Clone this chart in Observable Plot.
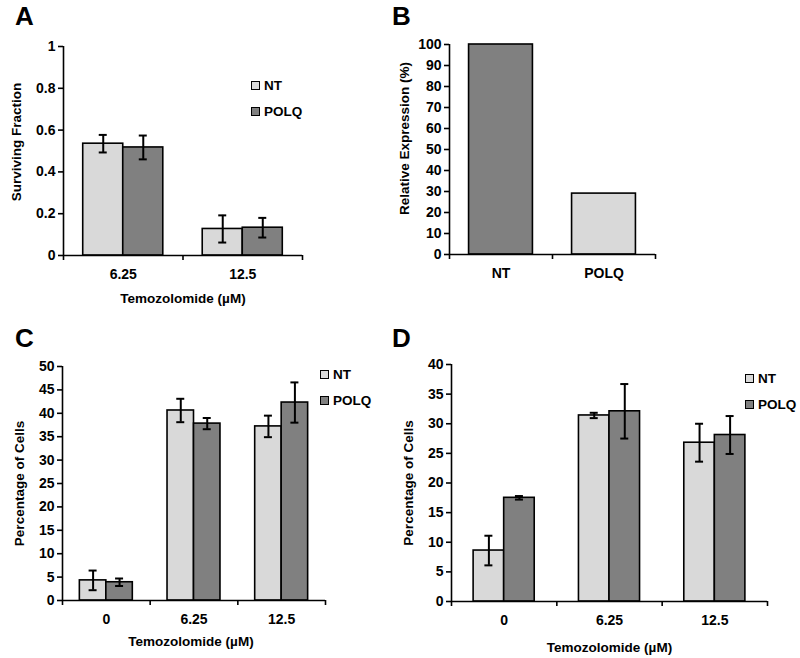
<!DOCTYPE html>
<html>
<head>
<meta charset="utf-8">
<script src="https://cdn.jsdelivr.net/npm/d3@7"></script>
<script src="https://cdn.jsdelivr.net/npm/@observablehq/plot@0.6"></script>
<style>
  body { margin: 0; background: #fff; }
  #root { position: relative; width: 800px; height: 658px; background: #fff; font-family: "Liberation Sans", Arial, sans-serif; font-weight: bold; color: #000; }
  .panel { position: absolute; }
  .letter { position: absolute; font-size: 26px; line-height: 26px; font-weight: bold; }
  .leg { position: absolute; display: flex; align-items: center; height: 16px; font-size: 13.5px; gap: 4px; }
  .leg .box { width: 9px; height: 9px; border: 1.5px solid #000; box-sizing: border-box; }
</style>
</head>
<body>
<div id="root"></div>
<script>
// ---------- data ----------
const seriesNames = ["NT", "POLQ"];
const xTitle = "Temozolomide (µM)";

// Panel A: surviving fraction
const dosesA = ["6.25", "12.5"];
const survNT = [0.535, 0.127];
const survNTerr = [0.042, 0.065];
const survPOLQ = [0.517, 0.133];
const survPOLQerr = [0.057, 0.047];
const yTicksA = [0, 0.2, 0.4, 0.6, 0.8, 1];

// Panel B: relative expression
const exprGroups = ["NT", "POLQ"];
const exprValues = [100, 29];
const yTicksB = [0, 10, 20, 30, 40, 50, 60, 70, 80, 90, 100];

// Panel C: percentage of cells
const dosesC = ["0", "6.25", "12.5"];
const cNT = [4.3, 40.6, 37.2];
const cNTerr = [2.1, 2.5, 2.3];
const cPOLQ = [3.9, 37.8, 42.3];
const cPOLQerr = [0.8, 1.2, 4.3];
const yTicksC = [0, 5, 10, 15, 20, 25, 30, 35, 40, 45, 50];

// Panel D: percentage of cells
const dosesD = ["0", "6.25", "12.5"];
const dNT = [8.6, 31.4, 26.8];
const dNTerr = [2.5, 0.45, 3.2];
const dPOLQ = [17.5, 32.1, 28.1];
const dPOLQerr = [0.3, 4.6, 3.2];
const yTicksD = [0, 5, 10, 15, 20, 25, 30, 35, 40];

// ---------- styles ----------
const LIGHT = "#d9d9d9";
const DARK = "#808080";
const FONT = '"Liberation Sans", Arial, sans-serif';
const FS = 13.5;
const FS_TICK = 14;
const SW = 1.6;

const root = document.getElementById("root");

function place(el, left, top) {
  const wrap = document.createElement("div");
  wrap.className = "panel";
  wrap.style.left = left + "px";
  wrap.style.top = top + "px";
  wrap.appendChild(el);
  root.appendChild(wrap);
}

function baseStyle() {
  return {fontFamily: FONT, fontSize: FS + "px", fontWeight: "bold", color: "#000", background: "transparent", overflow: "visible"};
}

const txt = {fontSize: FS, fontWeight: "bold", fontFamily: FONT, fill: "#000"};
const tickTxt = {...txt, fontSize: FS_TICK};

function yTitle(label, dx, dy) {
  return Plot.text([label], {...txt, text: d => d, frameAnchor: "left", textAnchor: "middle", lineAnchor: "middle", rotate: -90, dx, dy});
}

function groupedPanel(o) {
  const n = o.cats.length;
  const plotW = o.width - o.ml - o.mr;
  const stepPx = plotW / n;
  const capHalf = 4 / stepPx;
  const g = o.groupFrac;
  const rows = [];
  o.cats.forEach((c, i) => {
    [[o.nt, o.ntErr], [o.polq, o.polqErr]].forEach(([vals, errs], s) => {
      const x1 = i + 0.5 - g / 2 + s * g / 2;
      rows.push({cat: c, series: seriesNames[s], value: vals[i], err: errs[i], x1, x2: x1 + g / 2, xc: x1 + g / 4});
    });
  });
  return Plot.plot({
    width: o.width, height: o.height,
    marginLeft: o.ml, marginRight: o.mr, marginTop: o.mt, marginBottom: o.mb,
    x: {domain: [0, n]},
    y: {domain: o.yDomain},
    color: {domain: seriesNames, range: [LIGHT, DARK]},
    style: baseStyle(),
    marks: [
      Plot.rectY(rows, {x1: "x1", x2: "x2", y1: 0, y2: "value", fill: "series", stroke: "#000", strokeWidth: SW}),
      Plot.ruleX(rows, {x: "xc", y1: d => d.value - d.err, y2: d => d.value + d.err, strokeWidth: 2}),
      Plot.ruleY(rows, {y: d => d.value + d.err, x1: d => d.xc - capHalf, x2: d => d.xc + capHalf, strokeWidth: 2}),
      Plot.ruleY(rows, {y: d => d.value - d.err, x1: d => d.xc - capHalf, x2: d => d.xc + capHalf, strokeWidth: 2}),
      Plot.axisY({ticks: o.yTicks, tickSize: 5, tickPadding: 3, tickFormat: d => String(d), label: null, strokeWidth: SW, ...tickTxt}),
      Plot.axisX({ticks: d3.range(n + 1), tickSize: 5, tickFormat: () => "", label: null, strokeWidth: SW}),
      Plot.axisX({ticks: d3.range(n).map(i => i + 0.5), tickSize: 0, tickPadding: o.xPad, tickFormat: d => o.cats[Math.floor(d)], label: null, ...tickTxt}),
      Plot.ruleX([0], {strokeWidth: SW}),
      Plot.ruleY([0], {strokeWidth: SW}),
      yTitle(o.yLabel, o.yLabelDx, o.yLabelDy),
      Plot.text([xTitle], {...txt, text: d => d, frameAnchor: "bottom", textAnchor: "middle", lineAnchor: "middle", dx: o.xTitleDx, dy: o.xTitleDy})
    ]
  });
}

// Panel A
place(groupedPanel({
  cats: dosesA, nt: survNT, ntErr: survNTerr, polq: survPOLQ, polqErr: survPOLQerr,
  yDomain: [0, 1], yTicks: yTicksA, yLabel: "Surviving Fraction",
  width: 400, height: 329, ml: 63, mr: 98, mt: 46, mb: 74,
  groupFrac: 0.67, xPad: 14, yLabelDx: -47, yLabelDy: -9, xTitleDx: 0, xTitleDy: 43
}), 0, 0);

// Panel B
(function () {
  const n = exprGroups.length;
  const w = 0.62;
  const rows = exprGroups.map((c, i) => ({cat: c, value: exprValues[i], x1: i + 0.5 - w / 2, x2: i + 0.5 + w / 2}));
  const svg = Plot.plot({
    width: 400, height: 329,
    marginLeft: 49, marginRight: 145, marginTop: 44, marginBottom: 75,
    x: {domain: [0, n]},
    y: {domain: [0, 100]},
    color: {domain: exprGroups, range: [DARK, LIGHT]},
    style: baseStyle(),
    marks: [
      Plot.rectY(rows, {x1: "x1", x2: "x2", y1: 0, y2: "value", fill: "cat", stroke: "#000", strokeWidth: SW}),
      Plot.axisY({ticks: yTicksB, tickSize: 5, tickPadding: 3, tickFormat: d => String(d), label: null, strokeWidth: SW, ...tickTxt}),
      Plot.axisX({ticks: d3.range(n + 1), tickSize: 5, tickFormat: () => "", label: null, strokeWidth: SW}),
      Plot.axisX({ticks: d3.range(n).map(i => i + 0.5), tickSize: 0, tickPadding: 14, tickFormat: d => exprGroups[Math.floor(d)], label: null, ...tickTxt}),
      Plot.ruleX([0], {strokeWidth: SW}),
      Plot.ruleY([0], {strokeWidth: SW}),
      yTitle("Relative Expression (%)", -45, -11)
    ]
  });
  place(svg, 400, 0);
})();

// Panel C
place(groupedPanel({
  cats: dosesC, nt: cNT, ntErr: cNTerr, polq: cPOLQ, polqErr: cPOLQerr,
  yDomain: [0, 50], yTicks: yTicksC, yLabel: "Percentage of Cells",
  width: 400, height: 329, ml: 62, mr: 75, mt: 37, mb: 58,
  groupFrac: 0.604, xPad: 14, yLabelDx: -43, yLabelDy: 0, xTitleDx: -3, xTitleDy: 41
}), 0, 329);

// Panel D
place(groupedPanel({
  cats: dosesD, nt: dNT, ntErr: dNTerr, polq: dPOLQ, polqErr: dPOLQerr,
  yDomain: [0, 40], yTicks: yTicksD, yLabel: "Percentage of Cells",
  width: 400, height: 329, ml: 51, mr: 33, mt: 35, mb: 57,
  groupFrac: 0.58, xPad: 14, yLabelDx: -43, yLabelDy: 0, xTitleDx: 0, xTitleDy: 46
}), 400, 329);

// Panel letters
[["A", 15, 3], ["B", 392, 3], ["C", 15, 325], ["D", 392, 325]].forEach(([t, l, tp]) => {
  const d = document.createElement("div");
  d.className = "letter";
  d.textContent = t;
  d.style.left = l + "px";
  d.style.top = tp + "px";
  root.appendChild(d);
});

// Legends
function legend(left, centers) {
  seriesNames.forEach((s, i) => {
    const item = document.createElement("div");
    item.className = "leg";
    item.style.left = left + "px";
    item.style.top = (centers[i] - 8) + "px";
    const b = document.createElement("div");
    b.className = "box";
    b.style.background = i === 0 ? LIGHT : DARK;
    const t = document.createElement("span");
    t.textContent = s;
    item.appendChild(b);
    item.appendChild(t);
    root.appendChild(item);
  });
}
legend(251, [85.5, 111.5]);
legend(320, [374.5, 400]);
legend(745, [378, 404]);
</script>
</body>
</html>
